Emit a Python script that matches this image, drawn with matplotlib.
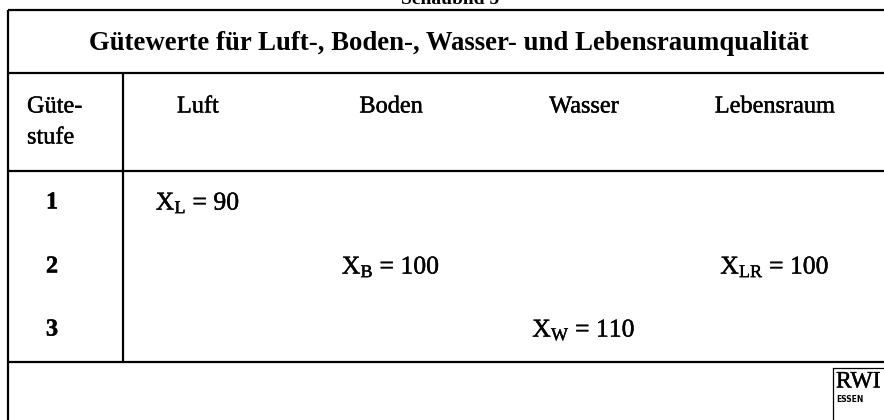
import matplotlib
matplotlib.use('Agg')
import matplotlib.pyplot as plt
import matplotlib.patheffects as pe

plt.rcParams['font.family'] = ['Liberation Serif', 'DejaVu Serif']
plt.rcParams['mathtext.fontset'] = 'custom'
plt.rcParams['mathtext.rm'] = 'Liberation Serif'
plt.rcParams['mathtext.it'] = 'Liberation Serif'

# table content
title = 'Gütewerte für Luft-, Boden-, Wasser- und Lebensraumqualität'
categories = ['Luft', 'Boden', 'Wasser', 'Lebensraum']
symbols = ['L', 'B', 'W', 'LR']
values = [90, 100, 110, 100]
stufe = [1, 2, 3, 2]
stufen = [1, 2, 3]

# layout in pixel coords (y from top)
W, H = 884, 420
col_x = [198, 391, 584, 775]
row_y = {1: 203, 2: 267, 3: 330}
left = 7.5
sep_x = 123
lw = 1.6
# scanned print looks a bit heavier than plain Times
ink = [pe.withStroke(linewidth=0.3, foreground='black')]


def hline(ax, y, x0=left, x1=W):
    ax.plot([x0, x1], [y, y], color='black', lw=lw, solid_capstyle='butt')


def vline(ax, x, y0, y1, width=lw):
    ax.plot([x, x], [y0, y1], color='black', lw=width, solid_capstyle='butt')


fig = plt.figure(figsize=(W / 100, H / 100), dpi=100)
ax = fig.add_axes([0, 0, 1, 1])
ax.set_xlim(0, W)
ax.set_ylim(H, 0)
ax.set_axis_off()

# caption above the table, cut by the page edge in the scan
ax.text(450, 4.0, 'Schaubild 5', ha='center', va='baseline',
        fontsize=14, weight='bold')

# frame
hline(ax, 9.5)
vline(ax, left, 9.5, H)
hline(ax, 73)
hline(ax, 171)
hline(ax, 362)
vline(ax, sep_x, 73, 362)

ax.text(449, 43, title, ha='center', va='center', fontsize=19.3, weight='bold')

# header row
ax.text(27, 107, 'Güte-', ha='left', va='center', fontsize=17.5, path_effects=ink)
ax.text(27, 138, 'stufe', ha='left', va='center', fontsize=17.5, path_effects=ink)
for x, name in zip(col_x, categories):
    ax.text(x, 107, name, ha='center', va='center', fontsize=17.5,
            path_effects=ink)

for s in stufen:
    ax.text(52, row_y[s], str(s), ha='center', va='center',
            fontsize=17.5, weight='bold', path_effects=ink)

for x, sym, val, s in zip(col_x, symbols, values, stufe):
    ax.text(x, row_y[s], r'$\mathrm{X}_{\mathrm{%s}}$ = %d' % (sym, val),
            ha='center', va='center', fontsize=18.5, path_effects=ink)

# RWI logo in the corner
vline(ax, 833, 368, H, width=0.9)
ax.plot([833, W], [368, 368], color='black', lw=0.9)
ax.text(836, 382, 'RWI', ha='left', va='center', fontsize=17, path_effects=ink)
ax.text(836, 400, 'ESSEN', ha='left', va='center', fontsize=5.5,
        weight='bold', family='DejaVu Sans')

fig.savefig('out.png', dpi=100, facecolor='white')
